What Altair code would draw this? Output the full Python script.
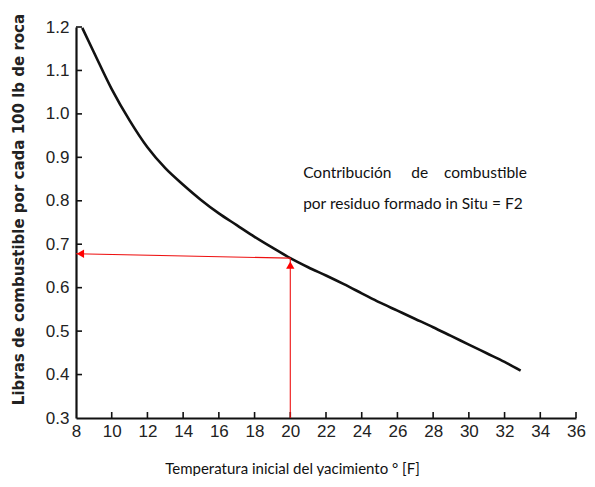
import altair as alt
import pandas as pd

# Curve
curve_x = [8.35, 9, 10, 11, 12, 13, 14, 15, 16, 17, 18, 19, 20, 21, 22, 23, 24, 25, 26, 27, 28, 29, 30, 31, 32, 32.9]
curve_y = [1.198, 1.142, 1.057, 0.985, 0.923, 0.875, 0.837, 0.802, 0.771, 0.744, 0.717, 0.692, 0.668,
           0.647, 0.628, 0.608, 0.587, 0.566, 0.547, 0.528, 0.509, 0.489, 0.469, 0.449, 0.429, 0.409]

x_ticks = [8, 10, 12, 14, 16, 18, 20, 22, 24, 26, 28, 30, 32, 34, 36]
y_ticks = [0.3, 0.4, 0.5, 0.6, 0.7, 0.8, 0.9, 1.0, 1.1, 1.2]

# Red reading arrows
h_arrow_x = [8.0, 20.0]
h_arrow_y = [0.678, 0.668]
v_arrow_x = [20.0, 20.0]
v_arrow_y = [0.3, 0.668]
head_x = [8.25, 20.0]
head_y = [0.678, 0.652]
head_shape = ["triangle-left", "triangle-up"]

nb = "\u00a0"
note_lines = ["Contribución" + nb * 5 + "de" + nb * 4 + "combustible",
              "por residuo formado in Situ = F2"]
note_x = [20.72, 20.72]
note_y = [0.864, 0.793]

x_title = "Temperatura inicial del yacimiento ° [F]"
y_title = "Libras de combustible por cada 100 lb de roca"

W, H = 500, 391

xs = alt.Scale(domain=[8, 36], nice=False, zero=False)
ys = alt.Scale(domain=[0.3, 1.2], nice=False, zero=False)

ax_x = alt.Axis(values=x_ticks, format="d", tickSize=0, labelPadding=5,
                labelOverlap=False, labelFlush=False, labelBound=False,
                domainColor="#111111", domainWidth=2.2, grid=False,
                labelFont="Liberation Sans", labelFontSize=17, labelColor="#222222",
                title=x_title, titleFont="Lato", titleFontSize=15,
                titleFontWeight="normal", titleColor="#111111",
                titleX=216, titleY=50, titleAnchor="middle", titleBaseline="middle")
ax_y = alt.Axis(values=y_ticks, format=".1f", tickSize=0, labelPadding=7,
                labelOverlap=False, labelFlush=False, labelBound=False,
                domainColor="#111111", domainWidth=2.2, grid=False,
                labelFont="Liberation Sans", labelFontSize=17, labelColor="#222222",
                title=y_title, titleFont="DejaVu Sans", titleFontSize=15,
                titleFontWeight="bold", titleColor="#222222",
                titleX=-58, titleY=182, titleAngle=-90,
                titleAnchor="middle", titleBaseline="middle")


def X(field="x"):
    return alt.X(f"{field}:Q", scale=xs, axis=ax_x, title=x_title)


def Y(field="y"):
    return alt.Y(f"{field}:Q", scale=ys, axis=ax_y, title=y_title)


curve_df = pd.DataFrame({"x": curve_x, "y": curve_y})
curve = alt.Chart(curve_df).mark_line(color="#111111", strokeWidth=2.6, interpolate="monotone").encode(
    x=X(), y=Y())

xt_df = pd.DataFrame({"x": x_ticks[1:]})
x_tick_marks = alt.Chart(xt_df).mark_rule(color="#111111", strokeWidth=1.6).encode(
    x=X(), y=alt.value(H), y2=alt.value(H - 6))

yt_df = pd.DataFrame({"y": y_ticks[1:]})
y_tick_marks = alt.Chart(yt_df).mark_rule(color="#111111", strokeWidth=1.6).encode(
    y=Y(), x=alt.value(0), x2=alt.value(6))

h_df = pd.DataFrame({"x": h_arrow_x, "y": h_arrow_y})
h_line = alt.Chart(h_df).mark_line(color="#ee1111", strokeWidth=1.1).encode(x=X(), y=Y())

v_df = pd.DataFrame({"x": v_arrow_x, "y": v_arrow_y})
v_line = alt.Chart(v_df).mark_line(color="#ee1111", strokeWidth=1.1).encode(x=X(), y=Y())

head_df = pd.DataFrame({"x": head_x, "y": head_y, "s": head_shape})
heads = alt.Chart(head_df).mark_point(filled=True, color="#ff0000", opacity=1, size=70).encode(
    x=X(), y=Y(),
    shape=alt.Shape("s:N", scale=alt.Scale(domain=head_shape, range=head_shape), legend=None))

note_df = pd.DataFrame({"x": note_x, "y": note_y, "t": note_lines})
note = alt.Chart(note_df).mark_text(font="Lato", fontSize=15.5, color="#111111",
                                    align="left", baseline="middle").encode(
    x=X(), y=Y(), text="t:N")

chart = alt.layer(curve, x_tick_marks, y_tick_marks, h_line, v_line, heads, note).properties(
    width=W, height=H,
    autosize=alt.AutoSizeParams(type="none"),
    padding={"left": 68, "top": 19, "right": 11, "bottom": 58},
    background="white",
).configure_view(stroke=None).configure_axis(labelOverlap=False)

chart.save("out.html", embed_options={"renderer": "svg", "actions": False})
